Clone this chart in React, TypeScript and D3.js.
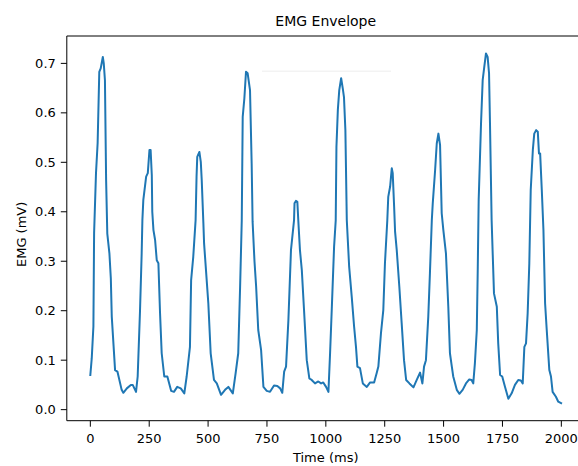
import React from "react";
import * as d3 from "d3";

const timeMs: number[] = [
  0, 6, 13, 16, 24, 31, 38, 44, 53, 57,
  62, 67, 72, 81, 87, 91, 105, 115, 133, 140,
  155, 172, 180, 194, 201, 211, 218, 221, 225, 237,
  244, 251, 256, 261, 263, 268, 275, 282, 289, 296,
  303, 314, 327, 343, 355, 369, 384, 399, 409, 423,
  428, 437, 447, 451, 454, 463, 469, 473, 480, 483,
  490, 501, 511, 525, 537, 555, 572, 586, 605, 617,
  628, 636, 643, 647, 654, 661, 668, 678, 685, 689,
  697, 704, 713, 725, 735, 749, 763, 780, 794, 806,
  815, 823, 831, 841, 852, 865, 867, 873, 879, 883,
  890, 898, 907, 919, 930, 940, 954, 968, 980, 989,
  1001, 1011, 1018, 1025, 1035, 1042, 1045, 1051, 1057, 1065,
  1072, 1077, 1083, 1089, 1099, 1110, 1120, 1128, 1134, 1145,
  1157, 1174, 1188, 1205, 1216, 1223, 1234, 1244, 1251, 1261,
  1265, 1273, 1280, 1284, 1290, 1294, 1301, 1312, 1322, 1332,
  1341, 1355, 1372, 1386, 1400, 1410, 1417, 1425, 1435, 1442,
  1450, 1454, 1464, 1471, 1478, 1485, 1492, 1499, 1510, 1520,
  1527, 1535, 1541, 1556, 1567, 1581, 1595, 1609, 1619, 1626,
  1633, 1641, 1645, 1649, 1659, 1666, 1672, 1680, 1687, 1693,
  1697, 1704, 1714, 1726, 1732, 1740, 1749, 1761, 1775, 1789,
  1803, 1817, 1828, 1836, 1843, 1850, 1857, 1864, 1870, 1879,
  1885, 1893, 1900, 1905, 1910, 1917, 1924, 1931, 1938, 1949,
  1956, 1963, 1977, 1987, 1999,
];

const emgMv: number[] = [
  0.070, 0.104, 0.168, 0.357, 0.478, 0.539, 0.683, 0.690, 0.713, 0.700,
  0.666, 0.464, 0.356, 0.316, 0.265, 0.188, 0.080, 0.077, 0.040, 0.034,
  0.043, 0.050, 0.050, 0.036, 0.067, 0.201, 0.316, 0.383, 0.424, 0.471,
  0.478, 0.525, 0.525, 0.474, 0.400, 0.363, 0.343, 0.302, 0.296, 0.195,
  0.114, 0.067, 0.067, 0.038, 0.036, 0.046, 0.043, 0.033, 0.067, 0.127,
  0.262, 0.309, 0.383, 0.471, 0.511, 0.521, 0.501, 0.464, 0.377, 0.336,
  0.289, 0.215, 0.114, 0.060, 0.053, 0.030, 0.040, 0.046, 0.033, 0.074,
  0.114, 0.249, 0.383, 0.592, 0.629, 0.683, 0.680, 0.646, 0.498, 0.380,
  0.300, 0.249, 0.161, 0.121, 0.046, 0.038, 0.036, 0.049, 0.048, 0.043,
  0.034, 0.077, 0.087, 0.181, 0.323, 0.383, 0.417, 0.422, 0.420, 0.383,
  0.323, 0.282, 0.205, 0.100, 0.063, 0.060, 0.053, 0.057, 0.053, 0.055,
  0.046, 0.036, 0.114, 0.201, 0.329, 0.383, 0.531, 0.606, 0.646, 0.670,
  0.649, 0.632, 0.565, 0.383, 0.289, 0.228, 0.168, 0.127, 0.087, 0.084,
  0.053, 0.046, 0.055, 0.055, 0.074, 0.087, 0.154, 0.201, 0.296, 0.383,
  0.430, 0.451, 0.488, 0.478, 0.410, 0.360, 0.323, 0.249, 0.175, 0.100,
  0.060, 0.053, 0.045, 0.060, 0.075, 0.053, 0.087, 0.100, 0.188, 0.276,
  0.383, 0.417, 0.484, 0.538, 0.558, 0.535, 0.397, 0.363, 0.316, 0.208,
  0.114, 0.087, 0.067, 0.040, 0.032, 0.040, 0.053, 0.061, 0.060, 0.053,
  0.094, 0.161, 0.282, 0.424, 0.579, 0.666, 0.690, 0.720, 0.713, 0.680,
  0.579, 0.383, 0.235, 0.208, 0.134, 0.070, 0.067, 0.046, 0.022, 0.033,
  0.050, 0.060, 0.059, 0.053, 0.127, 0.134, 0.195, 0.296, 0.444, 0.525,
  0.558, 0.565, 0.562, 0.518, 0.518, 0.444, 0.363, 0.215, 0.161, 0.080,
  0.067, 0.036, 0.026, 0.016, 0.013,
];

const xTicks: number[] = [0, 250, 500, 750, 1000, 1250, 1500, 1750, 2000];
const yTicks: number[] = [0.0, 0.1, 0.2, 0.3, 0.4, 0.5, 0.6, 0.7];

// faint artifact line seen in the reference (data coordinates)
const artifactX: number[] = [729, 1277];
const artifactY = 0.684;

const W = 578;
const H = 466;
const FONT = "DejaVu Sans, sans-serif";

export default function App() {
  const [xMin, xMax] = d3.extent(timeMs) as [number, number];
  const [yMin, yMax] = d3.extent(emgMv) as [number, number];
  const xPad = (xMax - xMin) * 0.05;
  const yPad = (yMax - yMin) * 0.05;

  const left = 66.8;
  const pxPerMs = 0.2355;
  const x = d3
    .scaleLinear()
    .domain([xMin - xPad, xMax + xPad])
    .range([left, left + (xMax - xMin + 2 * xPad) * pxPerMs]);
  const top = 36;
  const bottom = 420.7;
  const y = d3
    .scaleLinear()
    .domain([yMin - yPad, yMax + yPad])
    .range([bottom, top]);

  const [r0, r1] = x.range();
  const pts: [number, number][] = timeMs.map((t, i) => [t, emgMv[i]]);
  const line = d3
    .line<[number, number]>()
    .x((d) => x(d[0]))
    .y((d) => y(d[1]));

  const tickLen = 6;
  const cx = (r0 + r1) / 2;

  return (
    <svg
      width={W}
      height={H}
      style={{ position: "absolute", left: 0, top: 0, background: "#fff" }}
      fontFamily={FONT}
    >
      <rect x={0} y={0} width={W} height={H} fill="#fff" />
      <text x={cx} y={26} textAnchor="middle" fontSize={14} fill="#000">
        EMG Envelope
      </text>
      <line
        x1={x(artifactX[0])}
        x2={x(artifactX[1])}
        y1={y(artifactY)}
        y2={y(artifactY)}
        stroke="#f3f3f3"
        strokeWidth={1.5}
      />
      <path
        d={line(pts) || ""}
        fill="none"
        stroke="#1f77b4"
        strokeWidth={2}
        strokeLinejoin="round"
        strokeLinecap="square"
      />
      {/* spines */}
      <line x1={r0} x2={r1} y1={top} y2={top} stroke="#000" strokeWidth={1} />
      <line x1={r0} x2={r1} y1={bottom} y2={bottom} stroke="#000" strokeWidth={1} />
      <line x1={r0} x2={r0} y1={top} y2={bottom} stroke="#000" strokeWidth={1} />
      <line x1={r1} x2={r1} y1={top} y2={bottom} stroke="#000" strokeWidth={1} />
      {xTicks.map((t) => (
        <g key={"x" + t} transform={`translate(${x(t)},${bottom})`}>
          <line y1={0} y2={tickLen} stroke="#000" strokeWidth={1} />
          <text y={tickLen + 16} textAnchor="middle" fontSize={13} fill="#000">
            {t}
          </text>
        </g>
      ))}
      {yTicks.map((t) => (
        <g key={"y" + t} transform={`translate(${r0},${y(t)})`}>
          <line x1={-tickLen} x2={0} stroke="#000" strokeWidth={1} />
          <text
            x={-tickLen - 5}
            dy="0.35em"
            textAnchor="end"
            fontSize={13}
            fill="#000"
          >
            {d3.format(".1f")(t)}
          </text>
        </g>
      ))}
      <text x={cx} y={462} textAnchor="middle" fontSize={13} fill="#000">
        Time (ms)
      </text>
      <text
        transform={`translate(26,${(top + bottom) / 2 + 6}) rotate(-90)`}
        textAnchor="middle"
        fontSize={13}
        fill="#000"
      >
        EMG (mV)
      </text>
    </svg>
  );
}
